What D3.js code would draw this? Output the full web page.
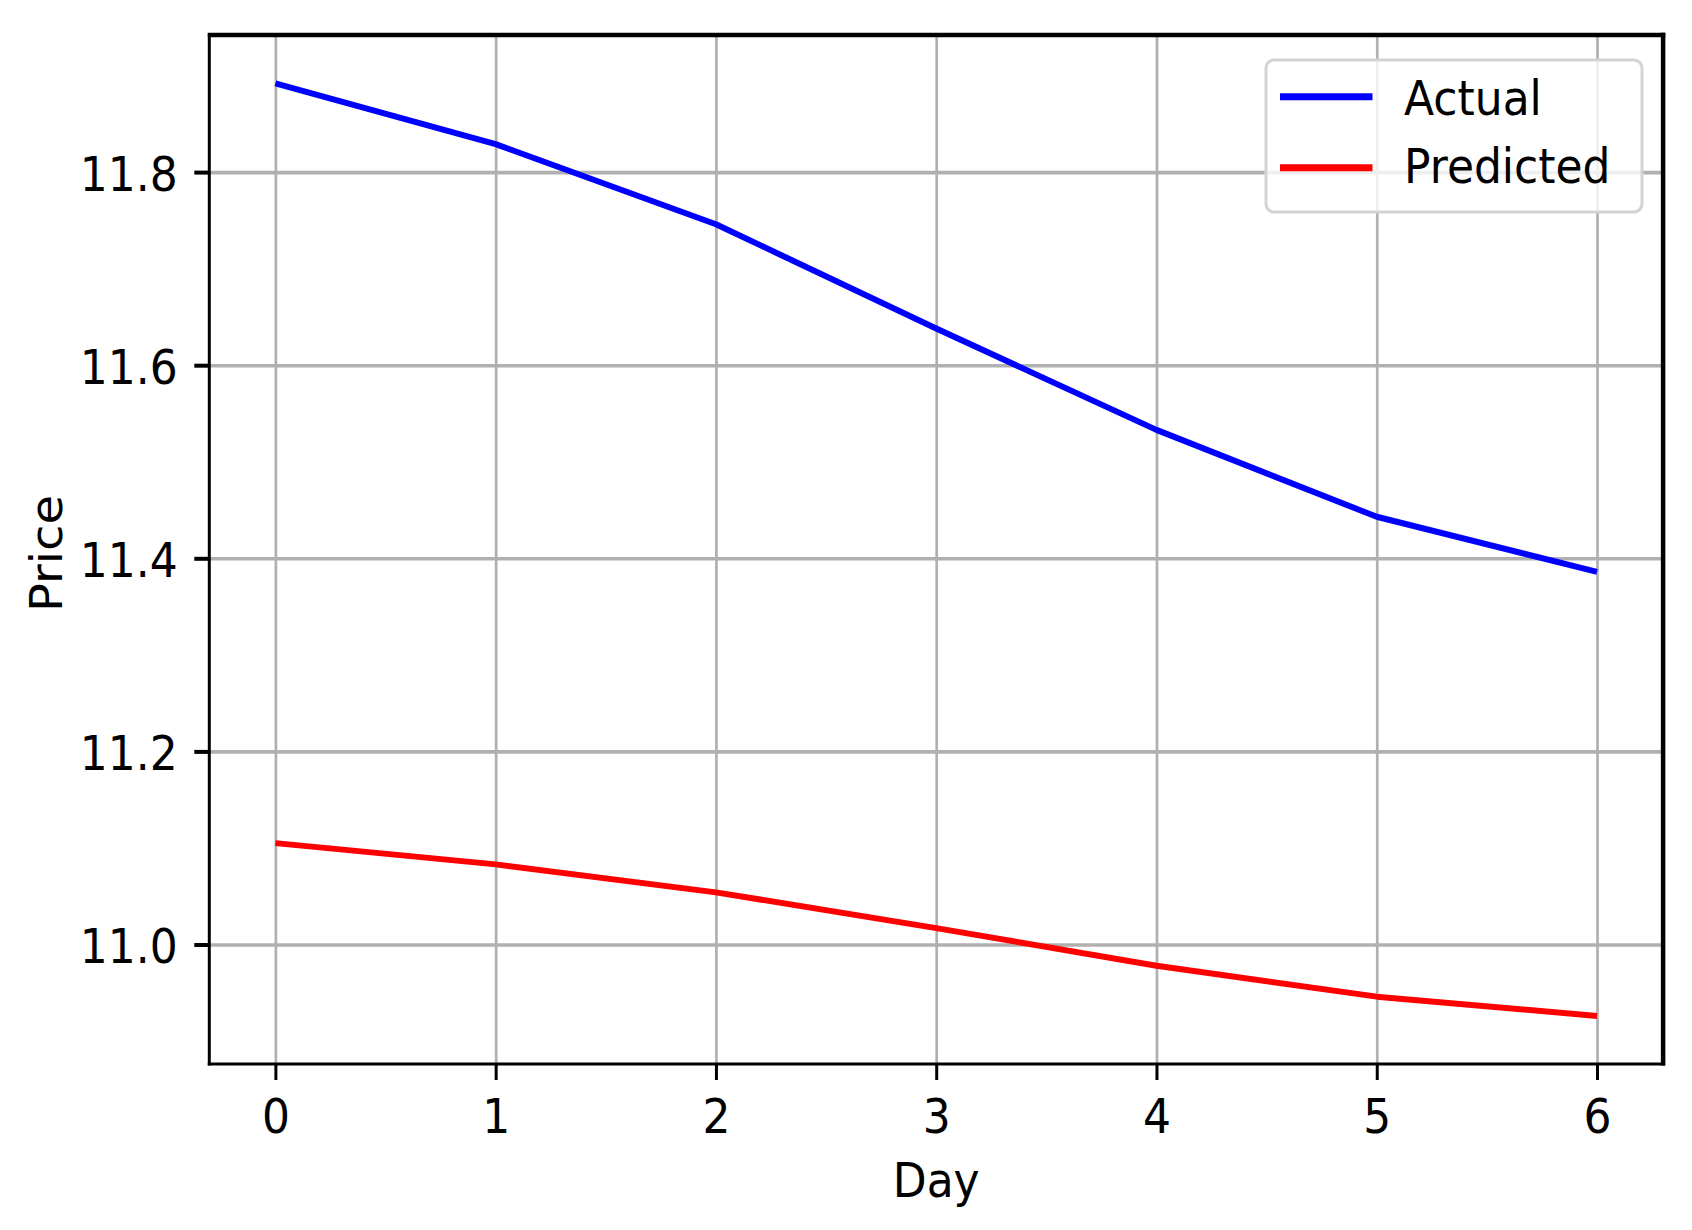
<!DOCTYPE html>
<html>
<head>
<meta charset="utf-8">
<script src="https://cdn.jsdelivr.net/npm/d3@7"></script>
<style>
  html, body { margin: 0; padding: 0; background: #ffffff; }
  svg { display: block; }
  text { font-family: "DejaVu Sans", sans-serif; fill: #000; }
</style>
</head>
<body>
<svg id="chart" width="1692" height="1230"></svg>
<script>
const days = [0, 1, 2, 3, 4, 5, 6];
const actual = [11.892, 11.829, 11.746, 11.638, 11.533, 11.443, 11.386];
const predicted = [11.105, 11.083, 11.054, 11.017, 10.978, 10.946, 10.926];
const xTickValues = [0, 1, 2, 3, 4, 5, 6];
const yTickValues = [11.0, 11.2, 11.4, 11.6, 11.8];
const seriesNames = ["Actual", "Predicted"];
const seriesColors = ["#0000ff", "#ff0000"];

(function () {
const W = 1692, H = 1230;
const pL = 209.3, pR = 1663.1, pT = 35, pB = 1064;
const SY = 1.09; // vertical stretch of the reference image
const FS = 44;

const svg = d3.select("#chart");
svg.append("rect").attr("width", W).attr("height", H).attr("fill", "#fff");

const x = d3.scaleLinear().domain([-0.3, 6.3]).range([pL, pR]);
const y = d3.scaleLinear().domain([10.87623, 11.94200]).range([pB, pT]);

// Grid lines
const gx = svg.append("g").attr("transform", `translate(0,${pB})`)
  .call(d3.axisBottom(x).tickValues(xTickValues).tickSize(-(pB - pT)).tickFormat(""));
gx.select(".domain").remove();
gx.selectAll("line").attr("stroke", "#b0b0b0").attr("stroke-width", 2.7);

const gy = svg.append("g").attr("transform", `translate(${pL},0)`)
  .call(d3.axisLeft(y).tickValues(yTickValues).tickSize(-(pR - pL)).tickFormat(""));
gy.select(".domain").remove();
gy.selectAll("line").attr("stroke", "#b0b0b0").attr("stroke-width", 3.6);

// Lines
const data = [actual, predicted];
const line = d3.line().x((d, i) => x(days[i])).y(d => y(d));
data.forEach((vals, k) => {
  svg.append("path").datum(vals)
    .attr("d", line)
    .attr("fill", "none")
    .attr("stroke", seriesColors[k])
    .attr("stroke-width", 6)
    .attr("stroke-linejoin", "round")
    .attr("stroke-linecap", "butt");
});

// Spines
svg.append("line").attr("x1", pL).attr("x2", pL).attr("y1", pT - 2).attr("y2", pB + 1.5)
  .attr("stroke", "#000").attr("stroke-width", 3);
svg.append("line").attr("x1", pL - 1.5).attr("x2", pR + 2).attr("y1", pB).attr("y2", pB)
  .attr("stroke", "#000").attr("stroke-width", 3);
svg.append("line").attr("x1", pL - 1.5).attr("x2", pR + 2.2).attr("y1", pT).attr("y2", pT)
  .attr("stroke", "#000").attr("stroke-width", 4.5);
svg.append("line").attr("x1", pR).attr("x2", pR).attr("y1", pT - 2.2).attr("y2", pB + 1.5)
  .attr("stroke", "#000").attr("stroke-width", 4.5);

// X axis ticks and labels
const ax = svg.append("g").attr("transform", `translate(0,${pB})`)
  .call(d3.axisBottom(x).tickValues(xTickValues).tickSize(16).tickFormat(d3.format("d")));
ax.select(".domain").remove();
ax.selectAll("line").attr("stroke", "#000").attr("stroke-width", 3);
ax.selectAll("text")
  .attr("y", 0).attr("dy", 0)
  .attr("font-size", FS)
  .attr("font-family", "DejaVu Sans")
  .attr("transform", `translate(0,69) scale(1,${SY})`);

// Y axis ticks and labels
const ay = svg.append("g").attr("transform", `translate(${pL},0)`)
  .call(d3.axisLeft(y).tickValues(yTickValues).tickSize(15).tickFormat(d3.format(".1f")));
ay.select(".domain").remove();
ay.selectAll("line").attr("stroke", "#000").attr("stroke-width", 4);
ay.selectAll("text")
  .attr("x", 0).attr("dy", 0)
  .attr("font-size", FS)
  .attr("font-family", "DejaVu Sans")
  .attr("transform", `translate(-31.5,18) scale(1,${SY})`);

// Axis labels
svg.append("text")
  .attr("text-anchor", "middle")
  .attr("font-size", FS)
  .attr("transform", `translate(${(pL + pR) / 2},1196.5) scale(1,${SY})`)
  .text("Day");
svg.append("text")
  .attr("text-anchor", "middle")
  .attr("font-size", FS)
  .attr("transform", `translate(62,${(pT + pB) / 2 + 4}) scale(1,${SY}) rotate(-90)`)
  .text("Price");

// Legend
const lg = svg.append("g");
lg.append("rect")
  .attr("x", 1266).attr("y", 60).attr("width", 376).attr("height", 152)
  .attr("rx", 8).attr("ry", 8)
  .attr("fill", "#fff").attr("fill-opacity", 0.8)
  .attr("stroke", "#d3d3d3").attr("stroke-width", 3);
const legendY = [96.7, 167.7];
const legendTextY = [115, 183];
seriesNames.forEach((name, k) => {
  lg.append("line")
    .attr("x1", 1280).attr("x2", 1372.5)
    .attr("y1", legendY[k]).attr("y2", legendY[k])
    .attr("stroke", seriesColors[k]).attr("stroke-width", 7);
  lg.append("text")
    .attr("font-size", FS)
    .attr("transform", `translate(1404,${legendTextY[k]}) scale(1,${SY})`)
    .text(name);
});
})();
</script>
</body>
</html>
